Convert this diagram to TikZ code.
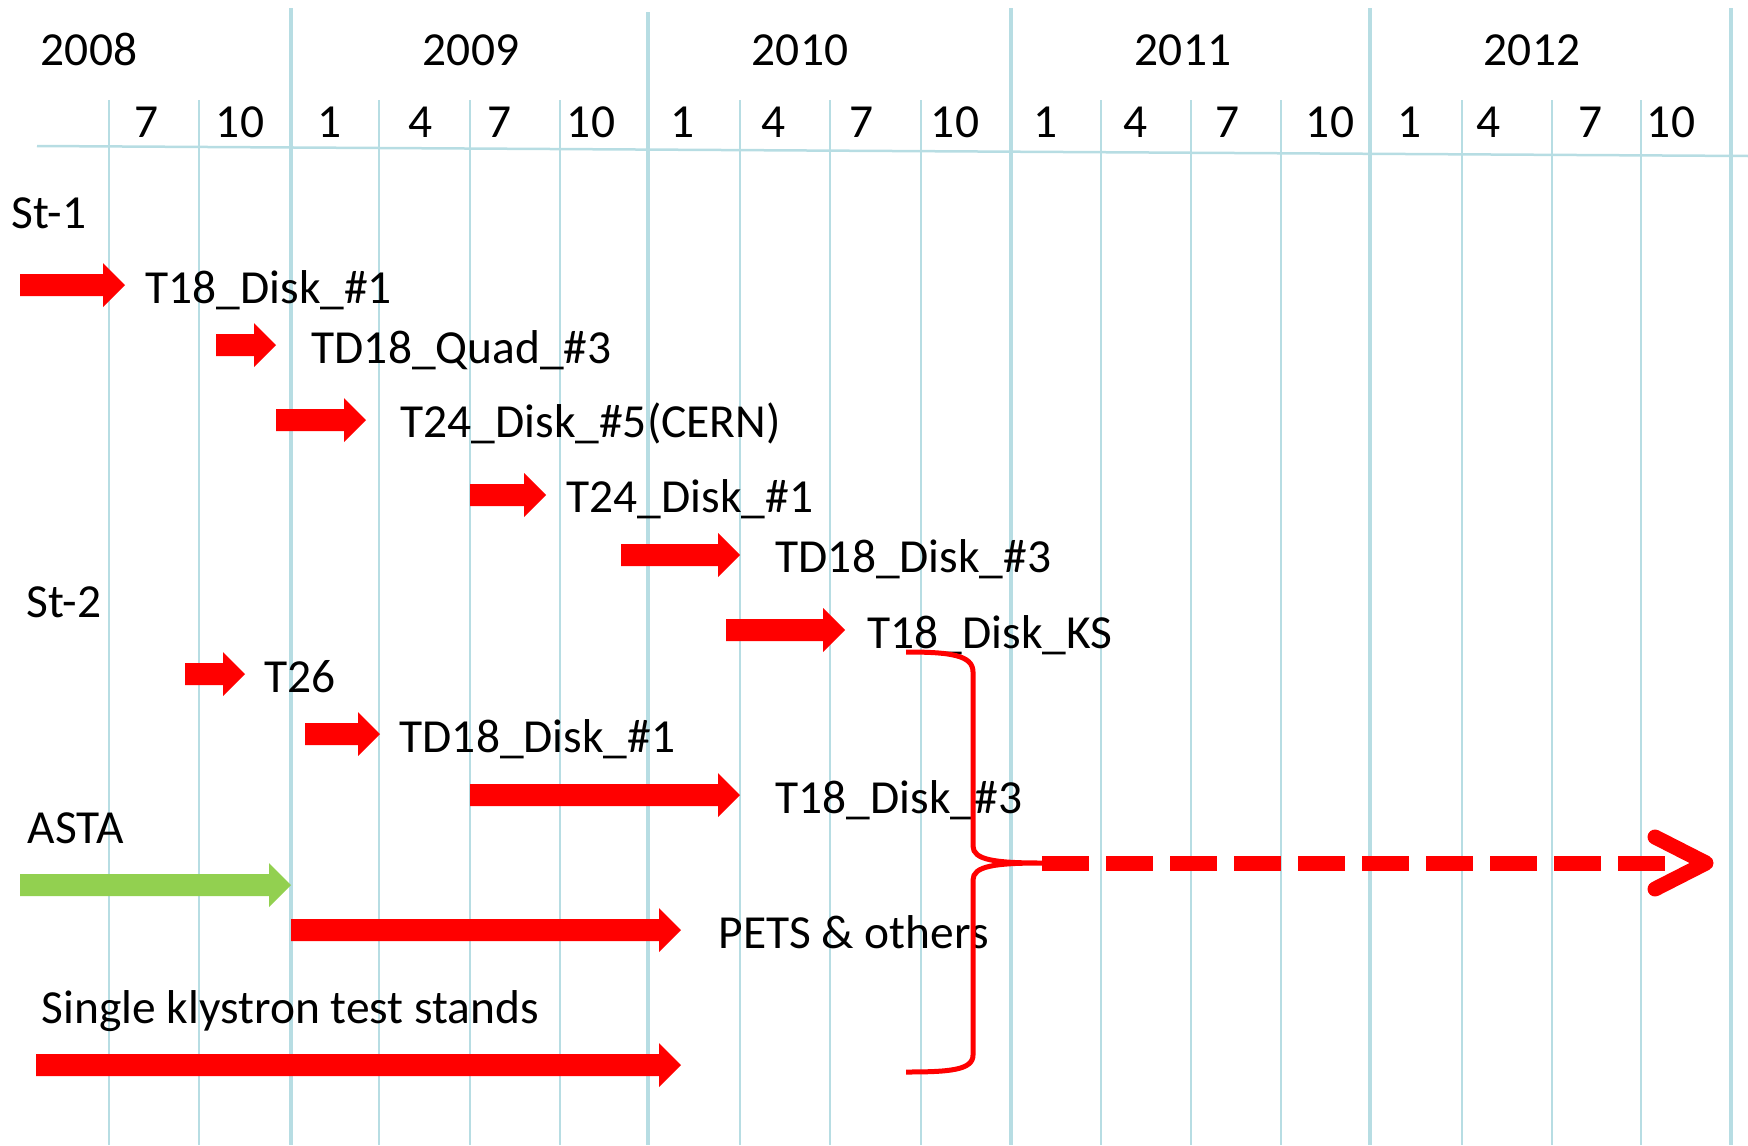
\documentclass[tikz,border=0pt]{standalone}
\usepackage{fontspec}
\setmainfont{Carlito}
\definecolor{gridblue}{RGB}{183,221,227}
\definecolor{astagreen}{RGB}{146,208,80}
% block arrow: colour, start x, tip x, centre y
\newcommand{\fatarrow}[4]{%
  \fill[#1] (#2,#4-11) -- (#3-22,#4-11) -- (#3-22,#4-22) -- (#3,#4)
    -- (#3-22,#4+22) -- (#3-22,#4+11) -- (#2,#4+11) -- cycle;}

\begin{document}
\begin{tikzpicture}[x=0.1mm, y=-0.1mm,
    txt/.style={inner sep=0, anchor=base west, font=\fontsize{13.5}{16}\selectfont},
    year/.style={txt, anchor=base},
    month/.style={txt, anchor=base},
    thin grid/.style={draw=gridblue, line width=0.15mm},
    year grid/.style={draw=gridblue, line width=0.4mm},
    brace/.style={draw=red, line width=0.5mm},
    later/.style={draw=red, line width=1.5mm, dash pattern=on 4.7mm off 1.7mm}]
\useasboundingbox (0,0) rectangle (1748,1145);

% grid
\foreach \x in {109,199,379,470,560,740,830,921,1101,1191,1281,1462,1552,1641}
  \draw[thin grid] (\x,100) -- (\x,1145);
\foreach \x/\t in {291/8,648/12,1011/8,1370/8,1731/8}
  \draw[year grid] (\x,\t) -- (\x,1145);
\draw[thin grid, line width=0.25mm] (37,146) -- (1748,156);

% years and months
\node[year] (y2008) at (89,65) {2008};
\node[year] (y2009) at (471,65) {2009};
\node[year] (y2010) at (800,65) {2010};
\node[year] (y2011) at (1183,65) {2011};
\node[year] (y2012) at (1532,65) {2012};
\foreach \x/\m [count=\i] in {147/7,240/10,330/1,421/4,500/7,591/10,683/1,774/4,862/7,
    955/10,1046/1,1136/4,1228/7,1330/10,1410/1,1489/4,1590/7,1671/10}
  \node[month] (m\i) at (\x,137) {\m};

% stands
\node[txt] (st1) at (11,228) {St-1};
\node[txt] (st2) at (26,617) {St-2};
\node[txt] (asta) at (27,843) {ASTA};
\node[txt] (sk) at (41,1023) {Single klystron test stands};

% St-1
\fatarrow{red}{20}{125}{285}
\node[txt] (t18d1) at (145,303) {T18\_Disk\_\#1};
\fatarrow{red}{216}{276}{345}
\node[txt] (td18q3) at (311,363) {TD18\_Quad\_\#3};
\fatarrow{red}{276}{366}{420}
\node[txt] (t24d5) at (400,437) {T24\_Disk\_\#5(CERN)};
\fatarrow{red}{470}{546}{495}
\node[txt] (t24d1) at (566,512) {T24\_Disk\_\#1};
\fatarrow{red}{621}{740}{555}
\node[txt] (td18d3) at (775,572) {TD18\_Disk\_\#3};
\fatarrow{red}{726}{845}{630}
\node[txt] (t18ks) at (867,648) {T18\_Disk\_KS};

% St-2
\fatarrow{red}{185}{245}{674}
\node[txt] (t26) at (264,692) {T26};
\fatarrow{red}{305}{380}{734}
\node[txt] (td18d1) at (399,752) {TD18\_Disk\_\#1};
\fatarrow{red}{470}{740}{795}
\node[txt] (t18d3) at (775,813) {T18\_Disk\_\#3};

% ASTA and others
\fatarrow{astagreen}{20}{291}{885}
\fatarrow{red}{291}{681}{930}
\node[txt] (pets) at (718,948) {PETS \& others};
\fatarrow{red}{36}{681}{1065}

% brace and continuation
\coordinate (bt) at (906,652);
\coordinate (tip) at (1042,863);
\coordinate (bb) at (906,1072);
\draw[brace] (bt) .. controls (950,652) and (973,655) .. (973,672) -- (973,846)
  .. controls (973,860) and (995,863) .. (tip)
  .. controls (995,863) and (973,866) .. (973,880) -- (973,1055)
  .. controls (973,1070) and (950,1072) .. (bb);
\coordinate (dend) at (1665,863);
\draw[later] (tip) -- (dend);
\coordinate (ahead) at (1706,863);
\draw[red, line width=1.5mm, line cap=round, line join=round]
  ([shift={(-51,-26)}]ahead) -- (ahead) -- ([shift={(-51,26)}]ahead);
\end{tikzpicture}
\end{document}
